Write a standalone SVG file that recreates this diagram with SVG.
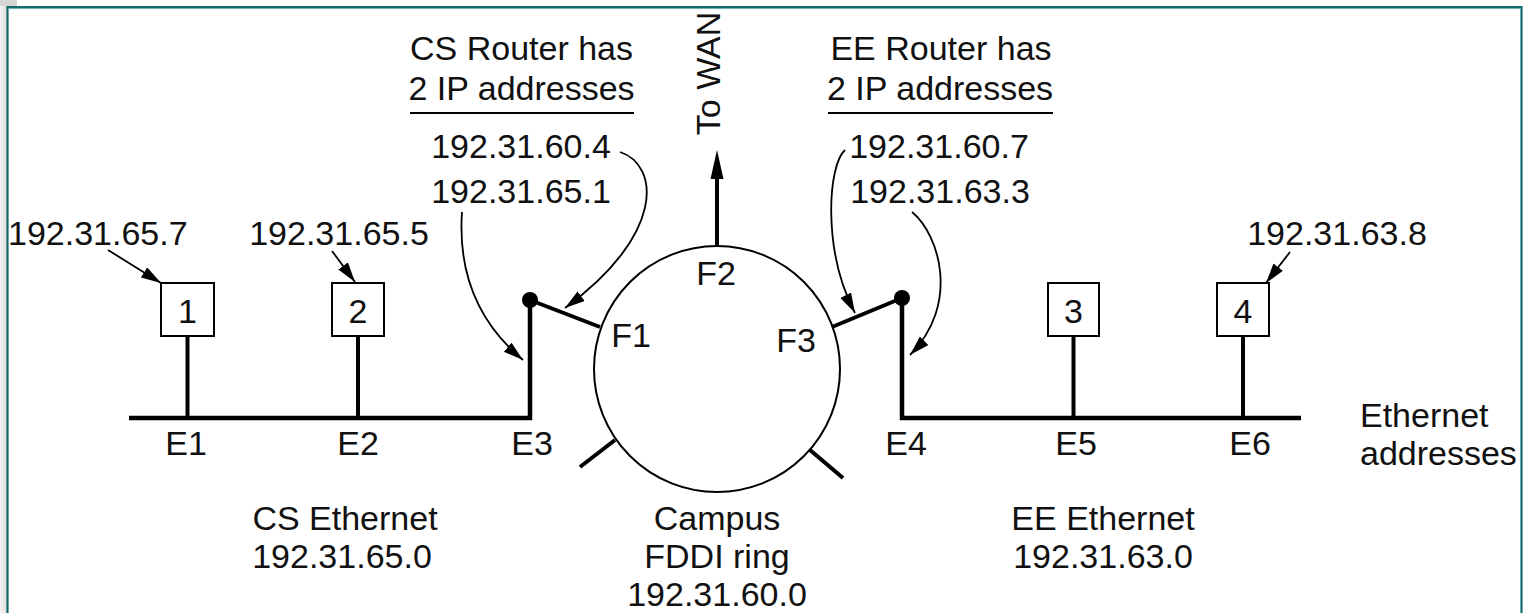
<svg xmlns="http://www.w3.org/2000/svg" width="1526" height="613" viewBox="0 0 1526 613">
<defs>
<linearGradient id="side" x1="0" y1="0" x2="1" y2="0">
<stop offset="0" stop-color="#f4f4f4"/>
<stop offset="1" stop-color="#dcdcdc"/>
</linearGradient>
<marker id="ah" markerUnits="userSpaceOnUse" markerWidth="22" markerHeight="14" refX="20" refY="6" orient="auto">
<path d="M0,0 L20,6 L0,12 z" fill="#000"/>
</marker>
</defs>
<style>
text{font-family:"Liberation Sans",Arial,Helvetica,sans-serif;font-size:34px;fill:#111}
.m{text-anchor:middle}
.thick{stroke:#000;stroke-width:4;fill:none}
.bus{stroke:#000;stroke-width:4.5;fill:none}
.thin{stroke:#000;stroke-width:1.8;fill:none}
.box{fill:#fff;stroke:#000;stroke-width:2}
.frame{stroke:#146b6b;stroke-width:2.2;fill:none}
</style>
<rect width="1526" height="613" fill="#fff"/>
<rect x="0" y="0" width="7" height="613" fill="url(#side)"/>
<rect x="0" y="0" width="17" height="6" fill="#d6d6d6"/>
<path class="frame" d="M7.5,613 V7 H1521.5 V613"/>
<line x1="8" y1="8.6" x2="1520.5" y2="8.6" stroke="#6fa9a9" stroke-width="1"/>

<g id="labels-cs-router">
<text class="m" x="521.5" y="60">CS Router has</text>
<text class="m" x="521.5" y="100">2 IP addresses</text>
<line x1="410" y1="113" x2="634" y2="113" stroke="#000" stroke-width="2"/>
<text class="m" x="521" y="158">192.31.60.4</text>
<text class="m" x="521" y="203">192.31.65.1</text>
</g>
<g id="labels-ee-router">
<text class="m" x="941" y="60">EE Router has</text>
<text class="m" x="940" y="100">2 IP addresses</text>
<line x1="828" y1="113" x2="1053" y2="113" stroke="#000" stroke-width="2"/>
<text class="m" x="939" y="158">192.31.60.7</text>
<text class="m" x="940" y="203">192.31.63.3</text>
</g>
<text transform="translate(720,73.5) rotate(-90)" class="m">To WAN</text>

<g id="connectors">
<path class="bus" d="M129,418 H530 V300"/>
<path class="bus" d="M902,300 V418 H1301"/>
<line class="thick" x1="530" y1="300" x2="600" y2="327"/>
<line class="thick" x1="902" y1="298" x2="832" y2="327"/>
<line class="thick" x1="187.5" y1="336" x2="187.5" y2="418"/>
<line class="thick" x1="358" y1="336" x2="358" y2="418"/>
<line class="thick" x1="1073.5" y1="336" x2="1073.5" y2="418"/>
<line class="thick" x1="1243" y1="336" x2="1243" y2="418"/>
<line class="thick" x1="615" y1="440" x2="580" y2="467"/>
<line class="thick" x1="810" y1="450" x2="843" y2="478"/>
<line class="thick" x1="717" y1="246" x2="717" y2="176"/>
<polygon points="717,150 710.5,179 723.5,179" fill="#000"/>
<path class="thin" marker-end="url(#ah)" d="M620,152 C660,165 665,235 565,308"/>
<path class="thin" marker-end="url(#ah)" d="M462,212 C458,270 475,320 523,360"/>
<path class="thin" marker-end="url(#ah)" d="M845,150 C828,165 822,250 855,313"/>
<path class="thin" marker-end="url(#ah)" d="M912,212 C940,235 960,305 910,355"/>
<line class="thin" marker-end="url(#ah)" x1="108" y1="250" x2="161" y2="283"/>
<line class="thin" marker-end="url(#ah)" x1="332" y1="251" x2="355" y2="282"/>
<line class="thin" marker-end="url(#ah)" x1="1290" y1="252" x2="1266" y2="283"/>
</g>

<g id="router-cs"><circle cx="530" cy="300" r="8" fill="#000"/></g>
<g id="router-ee"><circle cx="902" cy="298" r="8" fill="#000"/></g>

<g id="fddi-ring">
<circle cx="717" cy="369" r="123" fill="none" stroke="#000" stroke-width="2"/>
<text class="m" x="716" y="285">F2</text>
<text class="m" x="631" y="347">F1</text>
<text class="m" x="796" y="352">F3</text>
</g>

<g id="host1">
<rect class="box" x="161" y="283" width="53" height="53"/>
<text class="m" x="187.5" y="323">1</text>
<text x="8" y="245">192.31.65.7</text>
</g>
<g id="host2">
<rect class="box" x="332" y="283" width="52" height="53"/>
<text class="m" x="358" y="323">2</text>
<text class="m" x="339" y="245">192.31.65.5</text>
</g>
<g id="host3">
<rect class="box" x="1048" y="283" width="51" height="53"/>
<text class="m" x="1073.5" y="323">3</text>
</g>
<g id="host4">
<rect class="box" x="1217" y="283" width="52" height="53"/>
<text class="m" x="1243" y="323">4</text>
<text class="m" x="1337" y="245">192.31.63.8</text>
</g>

<g id="ethernet-labels">
<text class="m" x="186" y="455">E1</text>
<text class="m" x="358" y="455">E2</text>
<text class="m" x="532" y="455">E3</text>
<text class="m" x="906" y="455">E4</text>
<text class="m" x="1076" y="455">E5</text>
<text class="m" x="1250" y="455">E6</text>
<text x="1360" y="427">Ethernet</text>
<text x="1360" y="465">addresses</text>
</g>

<g id="network-labels">
<text class="m" x="345" y="530">CS Ethernet</text>
<text class="m" x="342" y="568">192.31.65.0</text>
<text class="m" x="717" y="530">Campus</text>
<text class="m" x="717" y="568">FDDI ring</text>
<text class="m" x="717" y="606">192.31.60.0</text>
<text class="m" x="1103" y="530">EE Ethernet</text>
<text class="m" x="1103" y="568">192.31.63.0</text>
</g>
</svg>
